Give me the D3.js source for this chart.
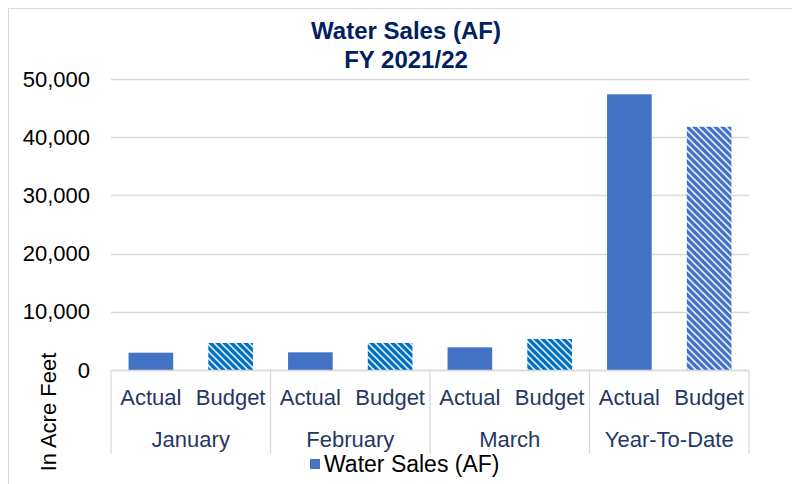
<!DOCTYPE html>
<html>
<head>
<meta charset="utf-8">
<script src="https://cdn.jsdelivr.net/npm/d3@7"></script>
<style>
  body { margin: 0; background: #fff; }
  text { font-family: "Liberation Sans", Arial, sans-serif; }
</style>
</head>
<body>
<div id="chart"></div>
<script>
var months = ["January", "February", "March", "Year-To-Date"];
var kinds = ["Actual", "Budget"];
var actualValues = [2970, 3040, 3900, 47370];
var budgetValues = [4640, 4640, 5330, 41790];
var yTicks = [0, 10000, 20000, 30000, 40000, 50000];

var svgWidth = 792;
var svgHeight = 484;

var margin = { top: 79, right: 43, bottom: 114, left: 111 };
var width = svgWidth - margin.left - margin.right;
var height = svgHeight - margin.top - margin.bottom;

var svg = d3.select("#chart")
  .append("svg")
  .attr("width", svgWidth)
  .attr("height", svgHeight);

// outer chart border (runs off the right and bottom edges)
svg.append("rect")
  .attr("x", 8.5).attr("y", 8.5)
  .attr("width", 820).attr("height", 520)
  .attr("fill", "none")
  .attr("stroke", "#d9d9d9");

// hatch patterns for the budget bars
var defs = svg.append("defs");
function hatch(id, color) {
  var p = defs.append("pattern")
    .attr("id", id)
    .attr("patternUnits", "userSpaceOnUse")
    .attr("width", 7).attr("height", 7);
  p.append("rect").attr("width", 7).attr("height", 7).attr("fill", color);
  p.append("path")
    .attr("d", "M0,0 L7,7 M-2,5 L2,9 M5,-2 L9,2")
    .attr("stroke", "#fff")
    .attr("stroke-width", 1.6)
    .attr("opacity", 0.85);
}
hatch("hatchMonth", "#0070c0");
hatch("hatchYtd", "#4472c4");

var chartGroup = svg.append("g")
  .attr("transform", `translate(${margin.left}, ${margin.top})`);

var xMonth = d3.scaleBand().domain(months).range([0, width]);
var xKind = d3.scaleBand().domain(kinds).range([0, xMonth.bandwidth()]).paddingInner(0.44).paddingOuter(0.22);
var y = d3.scaleLinear().domain([0, 50000]).range([height, 0]);

// gridlines
chartGroup.append("g")
  .selectAll("line")
  .data(yTicks)
  .enter().append("line")
  .attr("x1", 0).attr("x2", width)
  .attr("y1", d => Math.round(y(d)) + 0.5)
  .attr("y2", d => Math.round(y(d)) + 0.5)
  .attr("stroke", "#d9d9d9")
  .attr("stroke-width", 1.3);

// y tick labels
var leftAxis = d3.axisLeft(y).tickValues(yTicks).tickFormat(d3.format(",")).tickSize(0).tickPadding(21);
var yAxis = chartGroup.append("g").call(leftAxis);
yAxis.select(".domain").remove();
yAxis.selectAll("text")
  .attr("font-size", "22px")
  .attr("font-family", "'Liberation Sans', Arial, sans-serif")
  .attr("fill", "#000");

// bars
var data = [];
months.forEach(function(m, i) {
  data.push({ month: m, kind: "Actual", value: actualValues[i], ytd: i === 3 });
  data.push({ month: m, kind: "Budget", value: budgetValues[i], ytd: i === 3 });
});

chartGroup.selectAll(".bar")
  .data(data)
  .enter().append("rect")
  .attr("class", "bar")
  .attr("x", d => xMonth(d.month) + xKind(d.kind))
  .attr("width", xKind.bandwidth())
  .attr("y", d => y(d.value))
  .attr("height", d => height - y(d.value))
  .attr("fill", function(d) {
    if (d.kind === "Actual") return "#4472c4";
    return d.ytd ? "url(#hatchYtd)" : "url(#hatchMonth)";
  });

// category axis line and separators
chartGroup.append("line")
  .attr("x1", 0).attr("x2", width)
  .attr("y1", height + 0.5).attr("y2", height + 0.5)
  .attr("stroke", "#d9d9d9").attr("stroke-width", 1.3);

var seps = months.map(m => xMonth(m)).concat([width]);
chartGroup.selectAll(".sep")
  .data(seps)
  .enter().append("line")
  .attr("class", "sep")
  .attr("x1", d => d).attr("x2", d => d)
  .attr("y1", height).attr("y2", height + 84)
  .attr("stroke", "#d9d9d9").attr("stroke-width", 1.3);

// sub labels
chartGroup.selectAll(".kindLabel")
  .data(data)
  .enter().append("text")
  .attr("class", "kindLabel")
  .attr("x", d => xMonth(d.month) + xKind(d.kind) + xKind.bandwidth() / 2)
  .attr("y", height + 35)
  .attr("text-anchor", "middle")
  .attr("font-size", "22px")
  .attr("fill", "#1f3864")
  .text(d => d.kind);

// month labels
chartGroup.selectAll(".monthLabel")
  .data(months)
  .enter().append("text")
  .attr("class", "monthLabel")
  .attr("x", d => xMonth(d) + xMonth.bandwidth() / 2)
  .attr("y", height + 77)
  .attr("text-anchor", "middle")
  .attr("font-size", "22px")
  .attr("fill", "#1f3864")
  .text(d => d);

// title
svg.append("text")
  .attr("x", 406).attr("y", 39)
  .attr("text-anchor", "middle")
  .attr("font-size", "24px")
  .attr("font-weight", "bold")
  .attr("fill", "#002060")
  .text("Water Sales (AF)");

svg.append("text")
  .attr("x", 406).attr("y", 68)
  .attr("text-anchor", "middle")
  .attr("font-size", "24px")
  .attr("font-weight", "bold")
  .attr("fill", "#002060")
  .text("FY 2021/22");

// y axis title
svg.append("text")
  .attr("transform", "translate(56, 412)rotate(-90)")
  .attr("text-anchor", "middle")
  .attr("font-size", "22px")
  .attr("fill", "#000")
  .text("In Acre Feet");

// legend
svg.append("rect")
  .attr("x", 310).attr("y", 459)
  .attr("width", 10).attr("height", 10)
  .attr("fill", "#4472c4");

svg.append("text")
  .attr("x", 324).attr("y", 472)
  .attr("font-size", "23px")
  .attr("fill", "#000")
  .text("Water Sales (AF)");
</script>
</body>
</html>
